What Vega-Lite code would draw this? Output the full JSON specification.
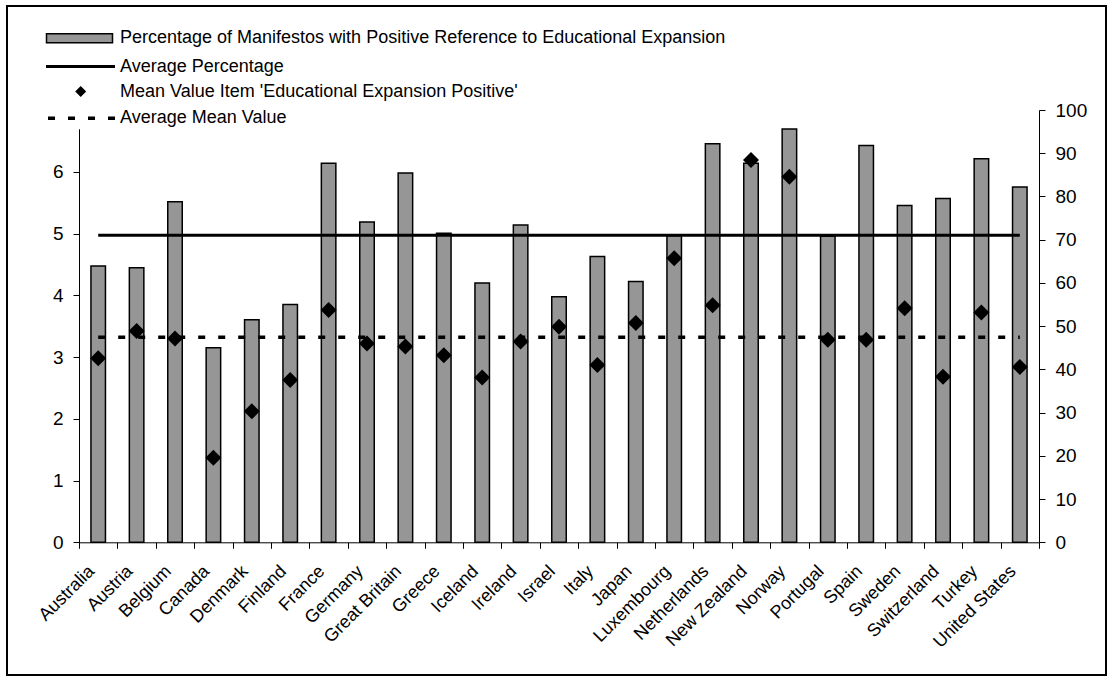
{
  "$schema": "https://vega.github.io/schema/vega-lite/v6.json",
  "width": 1099,
  "height": 669,
  "autosize": {"type": "none"},
  "padding": {"left": 7, "top": 6, "right": 9, "bottom": 8},
  "background": "white",
  "config": {
    "view": {"stroke": "black", "strokeWidth": 2},
    "font": "Liberation Sans",
    "axis": {
      "domainColor": "black", "tickColor": "black", "labelColor": "black",
      "labelFont": "Liberation Sans", "labelFontSize": 19, "grid": false,
      "domainWidth": 1, "tickWidth": 1, "tickSize": 6
    },
    "legend": {
      "orient": "none", "title": null, "fillColor": "white", "padding": 2,
      "labelFontSize": 18, "labelFont": "Liberation Sans", "labelColor": "black",
      "labelLimit": 1000, "labelBaseline": "middle", "symbolOffset": 0, "symbolOpacity": 1
    }
  },
  "data": {
    "values": [
      {"country": "Australia", "pct": 63.9, "mean": 2.98, "avgPct": 71.0, "avgMean": 3.32},
      {"country": "Austria", "pct": 63.5, "mean": 3.42, "avgPct": 71.0, "avgMean": 3.32},
      {"country": "Belgium", "pct": 78.8, "mean": 3.30, "avgPct": 71.0, "avgMean": 3.32},
      {"country": "Canada", "pct": 45.0, "mean": 1.37, "avgPct": 71.0, "avgMean": 3.32},
      {"country": "Denmark", "pct": 51.5, "mean": 2.12, "avgPct": 71.0, "avgMean": 3.32},
      {"country": "Finland", "pct": 55.0, "mean": 2.63, "avgPct": 71.0, "avgMean": 3.32},
      {"country": "France", "pct": 87.7, "mean": 3.76, "avgPct": 71.0, "avgMean": 3.32},
      {"country": "Germany", "pct": 74.1, "mean": 3.22, "avgPct": 71.0, "avgMean": 3.32},
      {"country": "Great Britain", "pct": 85.4, "mean": 3.17, "avgPct": 71.0, "avgMean": 3.32},
      {"country": "Greece", "pct": 71.5, "mean": 3.03, "avgPct": 71.0, "avgMean": 3.32},
      {"country": "Iceland", "pct": 60.0, "mean": 2.67, "avgPct": 71.0, "avgMean": 3.32},
      {"country": "Ireland", "pct": 73.4, "mean": 3.25, "avgPct": 71.0, "avgMean": 3.32},
      {"country": "Israel", "pct": 56.8, "mean": 3.49, "avgPct": 71.0, "avgMean": 3.32},
      {"country": "Italy", "pct": 66.1, "mean": 2.87, "avgPct": 71.0, "avgMean": 3.32},
      {"country": "Japan", "pct": 60.3, "mean": 3.55, "avgPct": 71.0, "avgMean": 3.32},
      {"country": "Luxembourg", "pct": 70.9, "mean": 4.60, "avgPct": 71.0, "avgMean": 3.32},
      {"country": "Netherlands", "pct": 92.2, "mean": 3.84, "avgPct": 71.0, "avgMean": 3.32},
      {"country": "New Zealand", "pct": 87.7, "mean": 6.19, "avgPct": 71.0, "avgMean": 3.32},
      {"country": "Norway", "pct": 95.6, "mean": 5.92, "avgPct": 71.0, "avgMean": 3.32},
      {"country": "Portugal", "pct": 70.8, "mean": 3.28, "avgPct": 71.0, "avgMean": 3.32},
      {"country": "Spain", "pct": 91.8, "mean": 3.28, "avgPct": 71.0, "avgMean": 3.32},
      {"country": "Sweden", "pct": 77.9, "mean": 3.79, "avgPct": 71.0, "avgMean": 3.32},
      {"country": "Switzerland", "pct": 79.5, "mean": 2.68, "avgPct": 71.0, "avgMean": 3.32},
      {"country": "Turkey", "pct": 88.7, "mean": 3.72, "avgPct": 71.0, "avgMean": 3.32},
      {"country": "United States", "pct": 82.2, "mean": 2.84, "avgPct": 71.0, "avgMean": 3.32}
    ]
  },
  "encoding": {
    "x": {
      "field": "country", "type": "nominal", "sort": null,
      "scale": {"range": [72, 1032], "paddingInner": 0, "paddingOuter": 0},
      "axis": {
        "title": null, "orient": "bottom", "offset": -132.7,
        "labelAngle": -45, "labelAlign": "right", "labelBaseline": "middle",
        "labelPadding": 20, "labelOffset": -7, "tickBand": "extent", "labelFontSize": 18
      }
    }
  },
  "layer": [
    {
      "layer": [
        {
          "mark": {"type": "bar", "width": 14.5, "stroke": "black", "strokeWidth": 1.5},
          "encoding": {
            "y": {
              "field": "pct", "type": "quantitative",
              "scale": {"domain": [0, 100], "range": [536.3, 104], "nice": false, "zero": true},
              "axis": {"title": null, "orient": "right", "offset": -67, "values": [0, 10, 20, 30, 40, 50, 60, 70, 80, 90, 100], "labelPadding": 10, "format": "d"}
            },
            "fill": {
              "datum": "Percentage of Manifestos with Positive Reference to Educational Expansion",
              "type": "nominal",
              "scale": {"range": ["#969696"]},
              "legend": {
                "legendX": 59.5, "legendY": 19.3,
                "symbolType": "M-3.3,-0.45L3.3,-0.45L3.3,0.45L-3.3,0.45Z",
                "symbolSize": 400, "symbolStrokeWidth": 1.5, "symbolStrokeColor": "black",
                "labelOffset": 29.5
              }
            }
          }
        },
        {
          "mark": {"type": "line", "strokeWidth": 3},
          "encoding": {
            "y": {"field": "avgPct", "type": "quantitative"},
            "stroke": {
              "datum": "Average Percentage", "type": "nominal",
              "scale": {"range": ["black"]},
              "legend": {
                "legendX": 59, "legendY": 47,
                "symbolType": "M-3.35,0L3.55,0",
                "symbolSize": 400, "symbolStrokeWidth": 3, "symbolFillColor": "transparent",
                "labelOffset": 29
              }
            }
          }
        }
      ]
    },
    {
      "layer": [
        {
          "mark": {"type": "point", "size": 256, "filled": true, "opacity": 1, "color": "black"},
          "encoding": {
            "y": {
              "field": "mean", "type": "quantitative",
              "scale": {"domain": [0, 7], "range": [536.3, 104], "nice": false, "zero": true},
              "axis": {"title": null, "orient": "left", "offset": -72, "values": [0, 1, 2, 3, 4, 5, 6], "labelPadding": 10, "format": "d"}
            },
            "shape": {
              "datum": "Mean Value Item 'Educational Expansion Positive'", "type": "nominal",
              "scale": {"range": ["diamond"]},
              "legend": {
                "legendX": 62.7, "legendY": 74.5,
                "symbolSize": 121, "symbolStrokeWidth": 0, "symbolFillColor": "black",
                "labelOffset": 30.3
              }
            }
          }
        },
        {
          "mark": {"type": "line", "strokeWidth": 3.5, "color": "black"},
          "encoding": {
            "y": {"field": "avgMean", "type": "quantitative"},
            "strokeDash": {
              "datum": "Average Mean Value", "type": "nominal",
              "scale": {"range": [[7, 13]]},
              "legend": {
                "legendX": 58.5, "legendY": 98.3,
                "symbolType": "M-3.15,0L3.55,0",
                "symbolSize": 400, "symbolStrokeWidth": 3.5, "symbolStrokeColor": "black",
                "symbolFillColor": "transparent",
                "labelOffset": 28.5
              }
            }
          }
        }
      ]
    }
  ],
  "resolve": {"scale": {"y": "independent"}}
}
